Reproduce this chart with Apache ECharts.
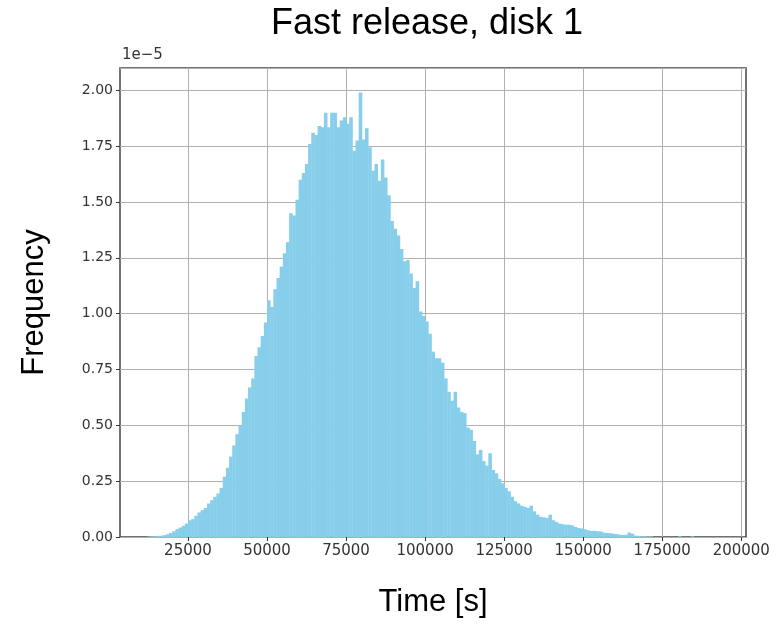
<!DOCTYPE html>
<html>
<head>
<meta charset="utf-8">
<title>Fast release, disk 1</title>
<script src="https://cdn.jsdelivr.net/npm/echarts@6/dist/echarts.min.js"></script>
<style>
  html, body { margin: 0; padding: 0; background: #fff; }
  #chart { width: 781px; height: 627px; }
</style>
</head>
<body>
<div id="chart"></div>
<script>
// histogram bins: start of first bin and width, both in seconds
var binStart = 12000;
var binWidth = 1000;
// frequency per bin, in units of 1e-5
var freq = [
  0.002, 0.003, 0.004, 0.005, 0.006, 0.008, 0.012, 0.018, 0.026, 0.035,
  0.042, 0.050, 0.060, 0.075, 0.080, 0.095, 0.110, 0.120, 0.130, 0.150,
  0.165, 0.180, 0.195, 0.220, 0.270, 0.310, 0.360, 0.410, 0.460, 0.500,
  0.560, 0.620, 0.670, 0.710, 0.810, 0.850, 0.900, 0.960, 1.060, 1.030,
  1.110, 1.160, 1.210, 1.270, 1.320, 1.450, 1.440, 1.510, 1.600, 1.630,
  1.670, 1.760, 1.810, 1.800, 1.840, 1.835, 1.900, 1.835, 1.900, 1.900,
  1.835, 1.865, 1.880, 1.850, 1.880, 1.730, 1.775, 1.990, 1.780, 1.830,
  1.745, 1.640, 1.670, 1.595, 1.690, 1.610, 1.530, 1.415, 1.380, 1.350,
  1.290, 1.235, 1.240, 1.180, 1.115, 1.145, 1.010, 0.990, 0.965, 0.910,
  0.830, 0.800, 0.800, 0.780, 0.710, 0.650, 0.610, 0.650, 0.580, 0.560,
  0.555, 0.490, 0.480, 0.430, 0.370, 0.390, 0.340, 0.320, 0.375, 0.300,
  0.285, 0.260, 0.240, 0.220, 0.205, 0.180, 0.160, 0.150, 0.140, 0.135,
  0.130, 0.140, 0.115, 0.100, 0.090, 0.088, 0.085, 0.100, 0.075, 0.067,
  0.060, 0.057, 0.055, 0.055, 0.052, 0.045, 0.040, 0.038, 0.035, 0.030,
  0.027, 0.028, 0.026, 0.025, 0.020, 0.018, 0.017, 0.015, 0.013, 0.010,
  0.009, 0.010, 0.020, 0.015, 0.006, 0.005, 0.004, 0.004, 0.003, 0.003,
  0.000, 0.000, 0.000, 0.000, 0.000, 0.000, 0.000, 0.000, 0.003, 0.000,
  0.000, 0.000, 0.003, 0.000, 0.000, 0.000, 0.000, 0.000, 0.000, 0.000
];
var xTicks = [25000, 50000, 75000, 100000, 125000, 150000, 175000, 200000];

var barData = freq.map(function (v, i) {
  var s = binStart + i * binWidth;
  return [s, s + binWidth, v];
});

var mychart = echarts.init(document.getElementById('chart'));
var tickFont = 'DejaVu Sans';
var option = {
  animation: false,
  title: {
    text: 'Fast release, disk 1',
    left: 422,
    top: 1,
    textAlign: 'center',
    textStyle: { fontFamily: 'Liberation Sans', fontSize: 36, fontWeight: 'normal', color: '#000' }
  },
  grid: {
    left: 120, right: 35, top: 68, bottom: 90,
    show: true, borderColor: '#444', borderWidth: 1.5, backgroundColor: '#fff'
  },
  xAxis: {
    type: 'value',
    min: 3500,
    max: 201500,
    name: 'Time [s]',
    nameLocation: 'middle',
    nameGap: 50,
    nameTextStyle: { fontFamily: 'Liberation Sans', fontSize: 31, color: '#000' },
    axisLine: { show: false },
    axisTick: { show: true, customValues: xTicks, length: 4, lineStyle: { color: '#333' } },
    axisLabel: {
      customValues: xTicks, fontFamily: tickFont, fontSize: 15, color: '#333', margin: 7,
      formatter: function (v) { return String(v); }
    },
    splitLine: { show: true, lineStyle: { color: '#b0b0b0', width: 1 } }
  },
  yAxis: {
    type: 'value',
    min: 0,
    max: 2.1,
    interval: 0.25,
    name: 'Frequency',
    nameLocation: 'middle',
    nameGap: 70,
    nameRotate: 90,
    nameTextStyle: { fontFamily: 'Liberation Sans', fontSize: 31, color: '#000' },
    axisLine: { show: false },
    axisTick: { show: true, length: 4, lineStyle: { color: '#333' } },
    axisLabel: {
      showMaxLabel: false,
      fontFamily: tickFont, fontSize: 14, color: '#333', margin: 7,
      formatter: function (v) { return v.toFixed(2); }
    },
    splitLine: { show: true, lineStyle: { color: '#b0b0b0', width: 1 } }
  },
  graphic: [{
    type: 'text', left: 122, top: 48,
    style: { text: '1e\u22125', fontFamily: tickFont, fontSize: 15, fill: '#333' }
  }],
  series: [{
    type: 'custom',
    data: barData,
    encode: { x: [0, 1], y: 2 },
    renderItem: function (params, api) {
      var p0 = api.coord([api.value(0), api.value(2)]);
      var p1 = api.coord([api.value(1), 0]);
      return {
        type: 'rect',
        shape: { x: p0[0], y: p0[1], width: p1[0] - p0[0] + 0.4, height: p1[1] - p0[1] },
        style: { fill: '#87ceeb' }
      };
    }
  }]
};
mychart.setOption(option);
</script>
</body>
</html>
